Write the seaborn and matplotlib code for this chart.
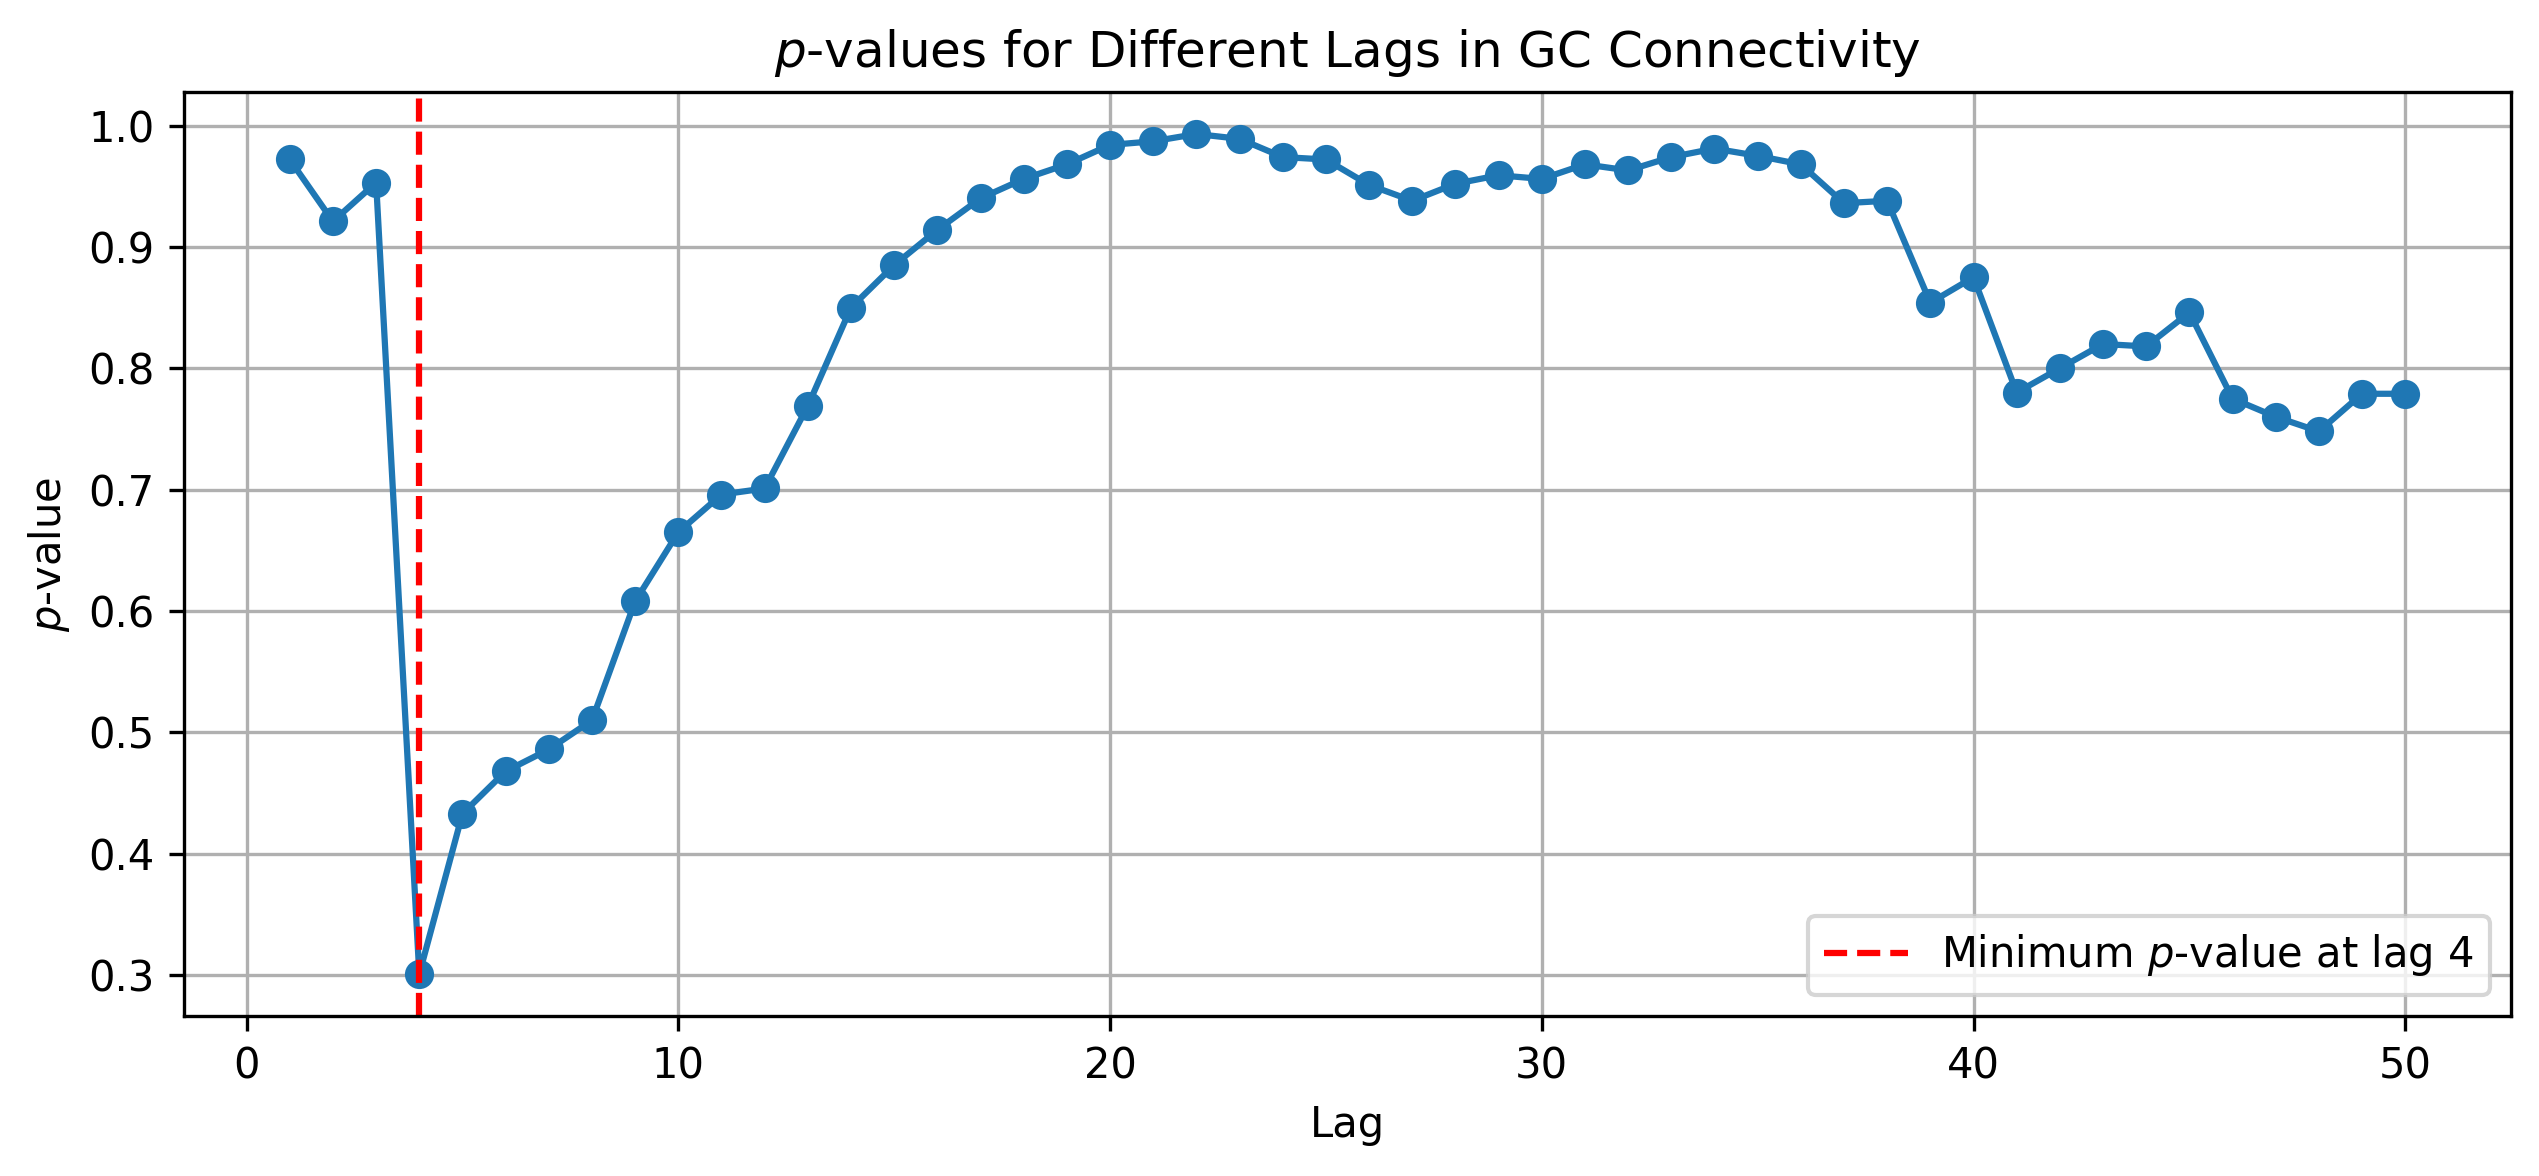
import numpy as np
import pandas as pd
import matplotlib
matplotlib.use("Agg")
import matplotlib.pyplot as plt
import seaborn as sns

# p-values, lags 1..50
lags = list(range(1, 51))
p_values = [
    0.972, 0.921, 0.953, 0.301, 0.433, 0.468, 0.486, 0.510, 0.608, 0.665,
    0.696, 0.701, 0.769, 0.850, 0.885, 0.914, 0.940, 0.956, 0.968, 0.984,
    0.987, 0.993, 0.989, 0.974, 0.972, 0.951, 0.938, 0.952, 0.959, 0.956,
    0.968, 0.963, 0.974, 0.981, 0.975, 0.968, 0.936, 0.938, 0.854, 0.875,
    0.780, 0.800, 0.820, 0.818, 0.846, 0.775, 0.760, 0.748, 0.779, 0.779,
]
min_lag = 4

df = pd.DataFrame({'Lag': lags, 'p': p_values})

fig = plt.figure(figsize=(2539 / 300, 1176 / 300), dpi=300)
ax = fig.add_axes([184 / 2539, 1 - 1016 / 1176, (2511 - 184) / 2539, (1016 - 92) / 1176])

sns.lineplot(data=df, x='Lag', y='p', ax=ax, color='#1f77b4', marker='o',
             markersize=6, markeredgecolor='#1f77b4', markeredgewidth=1,
             linewidth=1.5)
ax.axvline(min_lag, color='r', linestyle='--', linewidth=1.5,
           label=f'Minimum $p$-value at lag {min_lag}')

ax.set_title('$p$-values for Different Lags in GC Connectivity', fontsize=12)
ax.set_xlabel('Lag')
ax.set_ylabel('$p$-value')
ax.grid(True)
ax.legend(loc='lower right')

fig.savefig('out.png', dpi=300)
